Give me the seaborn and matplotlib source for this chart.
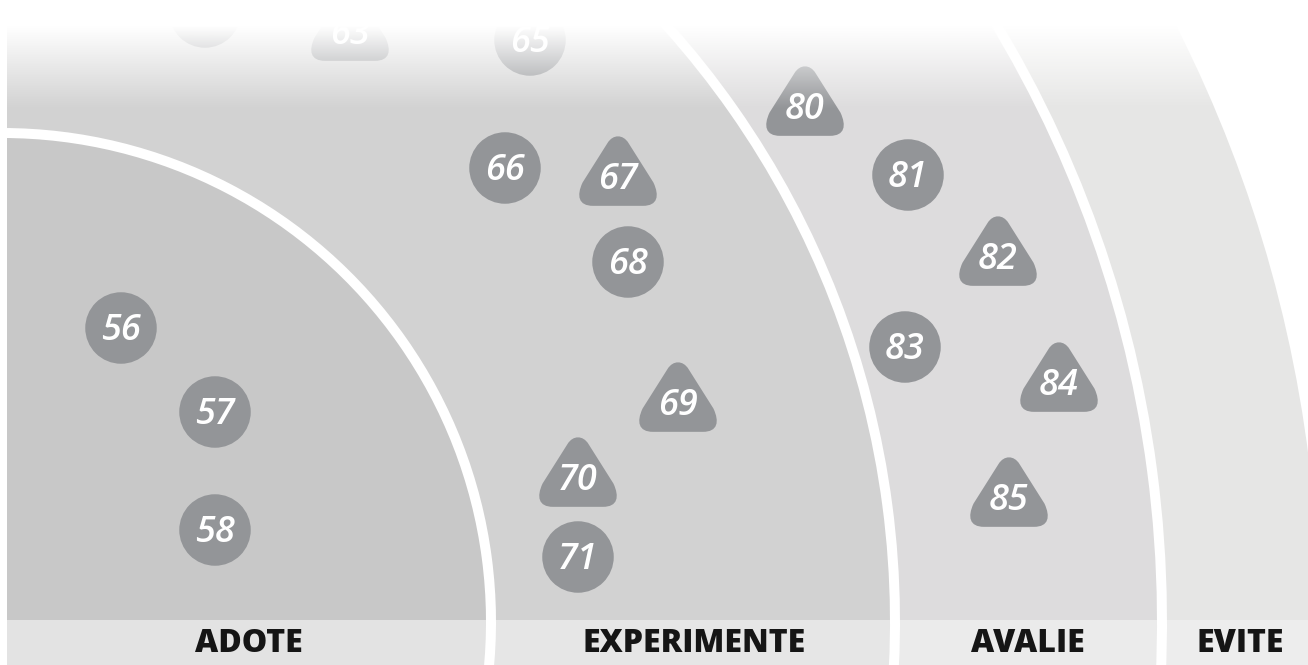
import numpy as np
import pandas as pd
import matplotlib.pyplot as plt
import seaborn as sns
from matplotlib.path import Path
from matplotlib.patches import Wedge, Arc, Circle, Rectangle

# rings of the radar quadrant (inner -> outer)
ring_names = ['ADOTE', 'EXPERIMENTE', 'AVALIE', 'EVITE']
ring_label_x = [249, 694, 1028, 1240]

# blips
blip_id = ['56', '57', '58', '61', '63', '65', '66', '67', '68', '69', '70', '71',
           '80', '81', '82', '83', '84', '85']
blip_x = [121, 215, 215, 205, 350, 530, 505, 618, 628, 678, 578, 578,
          805, 908, 998, 905, 1059, 1009]
blip_y = [328, 412, 530, 12, 25, 40, 168, 170, 262, 396, 471, 557,
          100, 175, 250, 347, 376, 491]
blip_shape = ['circle', 'circle', 'circle', 'circle', 'triangle', 'circle', 'circle',
              'triangle', 'circle', 'triangle', 'triangle', 'circle',
              'triangle', 'circle', 'triangle', 'circle', 'triangle', 'triangle']

blips = pd.DataFrame({'id': blip_id, 'x': blip_x, 'y': blip_y, 'shape': blip_shape})

W, H = 1308, 665
cx, cy = 2, 622
radius = [489, 893, 1160, 1317]
fill = ['#c8c8c8', '#d2d2d2', '#dddcdd', '#e6e6e5']
band_fill = ['#e3e3e3', '#e6e6e6', '#ebebeb', '#ededed']
blip_color = '#939598'

sns.set_theme(style='white')
plt.rcParams['font.family'] = ['Open Sans', 'DejaVu Sans']

fig = plt.figure(figsize=(W / 100, H / 100), dpi=100)
ax = fig.add_axes([0, 0, 1, 1])
ax.set_xlim(0, W)
ax.set_ylim(H, 0)
ax.axis('off')

# ring areas, outer first
for r, c in zip(radius[::-1], fill[::-1]):
    ax.add_patch(Wedge((cx, cy), r, 270, 360, facecolor=c, edgecolor='none', zorder=1))

# label band at the bottom
band = Rectangle((cx, 620), W - cx, H - 620, transform=ax.transData)
for r, c in zip(radius[::-1], band_fill[::-1]):
    p = Circle((cx, cy), r, facecolor=c, edgecolor='none', zorder=2)
    ax.add_patch(p)
    p.set_clip_path(band)

# white separators between rings
for r in radius[:3]:
    ax.add_patch(Arc((cx, cy), 2 * r, 2 * r, theta1=-90, theta2=20,
                     color='white', lw=7.2, zorder=3))

for name, lx in zip(ring_names, ring_label_x):
    ax.text(lx, 644, name, ha='center', va='center', fontsize=23,
            fontweight='heavy', color='#151515', zorder=4)

# rounded triangle marker
tri_verts = [(0, -0.86), (0.6, -0.86),
             (0.95, -0.86), (1.0, -0.62), (0.85, -0.3),
             (0.25, 0.65),
             (0.12, 0.86), (-0.12, 0.86), (-0.25, 0.65),
             (-0.85, -0.3),
             (-1.0, -0.62), (-0.95, -0.86), (-0.6, -0.86),
             (0, -0.86)]
tri_codes = [Path.MOVETO, Path.LINETO,
             Path.CURVE4, Path.CURVE4, Path.CURVE4,
             Path.LINETO,
             Path.CURVE4, Path.CURVE4, Path.CURVE4,
             Path.LINETO,
             Path.CURVE4, Path.CURVE4, Path.CURVE4,
             Path.CLOSEPOLY]
tri_marker = Path(tri_verts, tri_codes)

circ = blips[blips['shape'] == 'circle']
tri = blips[blips['shape'] == 'triangle']
sns.scatterplot(data=circ, x='x', y='y', marker='o', s=2650, color=blip_color,
                edgecolor='none', linewidth=0, ax=ax, zorder=5, legend=False)
sns.scatterplot(data=tri, x='x', y='y', marker=tri_marker, s=3600, color=blip_color,
                edgecolor='none', linewidth=0, ax=ax, zorder=5, legend=False)

for _, b in blips.iterrows():
    dy = 10 if b['shape'] == 'triangle' else 3
    ax.text(b['x'], b['y'] + dy, b['id'], ha='center', va='center', fontsize=26,
            fontweight='semibold', fontstyle='italic', color='white', zorder=6)

# white fade over the top of the chart
rows = np.arange(0, 120)
alpha = np.clip((108 - rows) / 82, 0, 1)
grad = np.ones((len(rows), 1, 4))
grad[:, 0, 3] = alpha
ax.imshow(grad, extent=(0, W, 120, 0), origin='upper', aspect='auto',
          interpolation='bilinear', zorder=10)
ax.add_patch(Rectangle((0, 0), 7, H, facecolor='white', edgecolor='none', zorder=11))

ax.set_xlim(0, W)
ax.set_ylim(H, 0)
fig.savefig('out.png', dpi=100)
